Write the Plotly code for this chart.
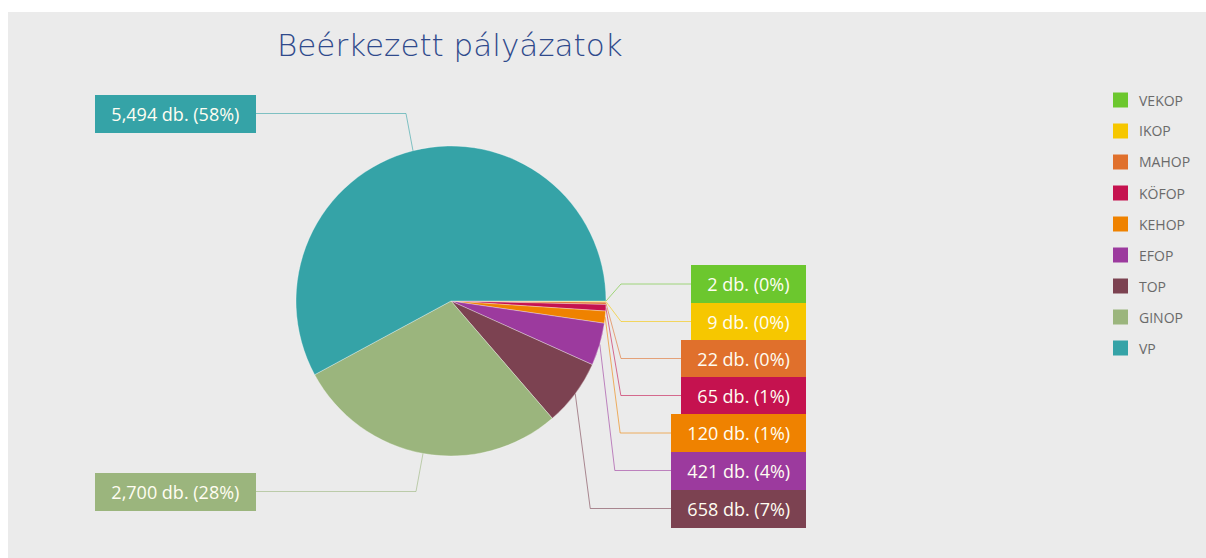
import math
import plotly.graph_objects as go

# Submitted applications per operational programme
programs = ["VEKOP", "IKOP", "MAHOP", "KÖFOP", "KEHOP", "EFOP", "TOP", "GINOP", "VP"]
counts = [2, 9, 22, 65, 120, 421, 658, 2700, 5494]
colors = ["#6cc72e", "#f6c700", "#e0702c", "#c5124f", "#ef8200",
          "#9c3a9e", "#7c4251", "#9bb57d", "#35a3a7"]
title_text = "Beérkezett pályázatok"

W, H = 1206, 558
BG = "#ebebeb"

# pie geometry in pixels
CX, CY, R = 451, 301, 155

# label placement (pixel rows) and side for each programme
label_side = {"VP": "left", "GINOP": "left"}
label_row = {"VP": 113.5, "GINOP": 491.5,
             "VEKOP": 284, "IKOP": 321.5, "MAHOP": 358.5, "KÖFOP": 395.5,
             "KEHOP": 433, "EFOP": 470.5, "TOP": 508.5}
RIGHT_EDGE = 806
LEFT_EDGE = 95


def px(x):
    return x / W


def py(y):
    return 1 - y / H


def hex_rgba(h, a):
    h = h.lstrip("#")
    return f"rgba({int(h[0:2], 16)},{int(h[2:4], 16)},{int(h[4:6], 16)},{a})"


fig = go.Figure()
fig.add_trace(go.Pie(
    labels=programs, values=counts, sort=False,
    direction="clockwise", rotation=90,
    marker=dict(colors=colors, line=dict(color="rgba(255,255,255,0.55)", width=0.6)),
    textinfo="none", hoverinfo="label+value+percent", showlegend=False,
    domain=dict(x=[px(CX - R), px(CX + R)], y=[py(CY + R), py(CY - R)]),
))

shapes = [dict(type="rect", xref="paper", yref="paper", layer="below",
               x0=px(8), x1=1, y0=0, y1=py(12), fillcolor=BG, line_width=0)]
annotations = []

total = sum(counts)
cum = 0
for name, v, c in zip(programs, counts, colors):
    mid = (cum + v / 2) / total * 2 * math.pi
    cum += v
    ex, ey = CX + R * math.cos(mid), CY + R * math.sin(mid)
    ly = label_row[name]
    pct = round(v / total * 100)
    text = "\u00a0\u00a0" + f"{v:,} db. ({pct}%)" + "\u00a0\u00a0"
    if label_side.get(name) == "left":
        bx = ex - 7
        end = LEFT_EDGE + 10
        anchor, ax = "left", LEFT_EDGE
    else:
        bx = ex + 15
        end = RIGHT_EDGE - 10
        anchor, ax = "right", RIGHT_EDGE
    shapes.append(dict(
        type="path", xref="paper", yref="paper", layer="above",
        path=f"M {px(ex)},{py(ey)} L {px(bx)},{py(ly)} L {px(end)},{py(ly)}",
        line=dict(color=hex_rgba(c, 0.6), width=1),
    ))
    annotations.append(dict(
        xref="paper", yref="paper", x=px(ax), y=py(ly),
        xanchor=anchor, yanchor="middle", text=text, showarrow=False,
        bgcolor=c, borderpad=7, borderwidth=0,
        font=dict(family="Open Sans", size=18, color="#fffdf2"),
    ))

# legend: coloured squares with programme names
for i, (name, c) in enumerate(zip(programs, colors)):
    yc = 100 + 31 * i
    shapes.append(dict(type="rect", xref="paper", yref="paper", layer="above",
                       x0=px(1113), x1=px(1128), y0=py(yc + 7.5), y1=py(yc - 7.5),
                       fillcolor=c, line_width=0))
    annotations.append(dict(xref="paper", yref="paper", x=px(1137), y=py(yc),
                            xanchor="left", yanchor="middle", text=name,
                            showarrow=False,
                            font=dict(family="Open Sans", size=14, color="#6a6a6a")))

annotations.append(dict(xref="paper", yref="paper", x=px(450), y=py(45),
                        xanchor="center", yanchor="middle", text=title_text,
                        showarrow=False,
                        font=dict(family="DejaVu Sans", size=31, color="#2f4a8c", weight=200)))

fig.update_layout(
    width=W, height=H, margin=dict(l=0, r=0, t=0, b=0),
    paper_bgcolor="white", plot_bgcolor=BG,
    shapes=shapes, annotations=annotations, showlegend=False,
)

fig.write_html("out.html")
